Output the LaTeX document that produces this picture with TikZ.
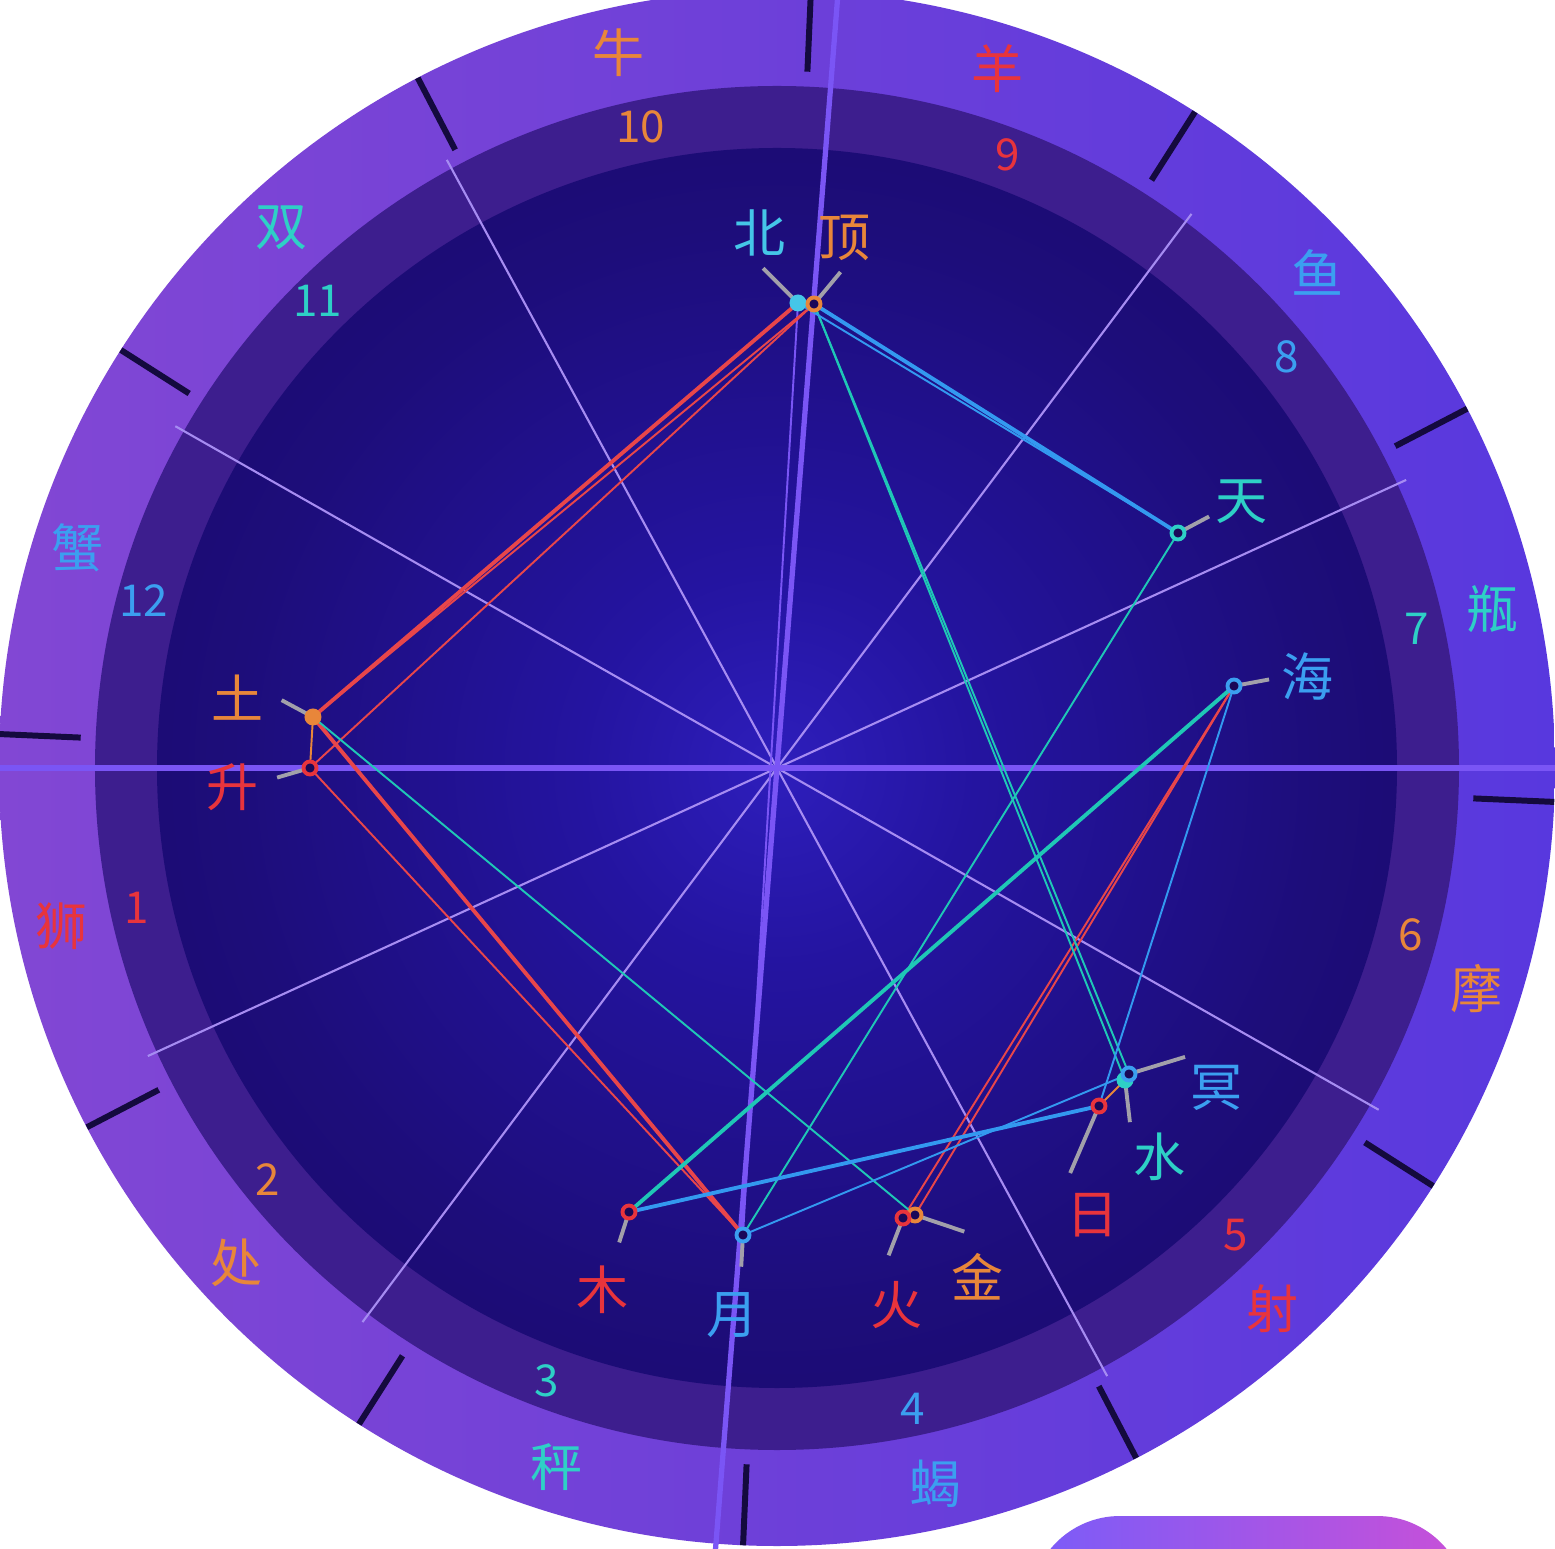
\documentclass[tikz,border=0pt]{standalone}
\usepackage{fontspec}
\usepackage{xcolor}
\usepackage{tikz}
\usetikzlibrary{calc}
\newfontfamily\cjk{Noto Sans CJK SC}
\newcommand{\signfont}{\cjk\fontsize{14.8pt}{16pt}\selectfont}
\newcommand{\housefont}{\cjk\fontsize{12.5pt}{14pt}\selectfont}
\definecolor{ringleft}{HTML}{8247D4}
\definecolor{ringright}{HTML}{5838DE}
\definecolor{houseband}{HTML}{3D1E8E}
\definecolor{disccore}{HTML}{2E1EBC}
\definecolor{discinner}{HTML}{2414A0}
\definecolor{discmid}{HTML}{1D0D7A}
\definecolor{discouter}{HTML}{170760}
\definecolor{discrim}{HTML}{13044C}
\definecolor{markfill}{HTML}{1A0858}
\definecolor{cusplav}{HTML}{A68CF2}
\definecolor{axislav}{HTML}{7A55F5}
\definecolor{tickdark}{HTML}{140A3E}
\definecolor{tickgray}{HTML}{A2A0AA}
\definecolor{firered}{HTML}{E8343C}
\definecolor{earthorange}{HTML}{E8863A}
\definecolor{airteal}{HTML}{2ED0C6}
\definecolor{waterblue}{HTML}{3B9FF0}
\definecolor{nodecyan}{HTML}{45C6E8}
\definecolor{aspred}{HTML}{E8464A}
\definecolor{aspteal}{HTML}{1FC7B6}
\definecolor{aspblue}{HTML}{3399F0}
\definecolor{btnleft}{HTML}{7A5CF8}
\definecolor{btnright}{HTML}{C850D8}
\pgfdeclareradialshading{discglow}{\pgfpoint{0bp}{0bp}}{color(0bp)=(disccore); color(8bp)=(discinner); color(22bp)=(discmid); color(40bp)=(discouter); color(50bp)=(discrim)}

\tikzset{
    cuspline/.style={draw=cusplav, line width=0.6pt},
    axisline/.style={draw=axislav, line width=1.5pt},
    signtick/.style={draw=tickdark, line width=1.7pt},
    graytick/.style={draw=tickgray, line width=1.1pt},
    aspthin/.style={draw=#1, line width=0.55pt},
    aspthick/.style={draw=#1, line width=1.1pt},
    ringmark/.style={circle, draw=#1, fill=markfill, line width=1.1pt, inner sep=0pt, minimum size=0.13cm},
    dotmark/.style={circle, fill=#1, inner sep=0pt, minimum size=0.17cm},
    signlabel/.style={text=#1, font=\signfont, inner sep=0pt},
    houselabel/.style={text=#1, font=\housefont, inner sep=0pt}
}

\begin{document}
\begin{tikzpicture}[x=0.01cm, y=0.01cm]
    % Frame
    \useasboundingbox (-777,-781) rectangle (778,768);
    \fill[white] (-777,-781) rectangle (778,768);
    \clip (-777,-781) rectangle (778,768);

    % Rings
    \shade[left color=ringleft, right color=ringright] (0,0) circle (778);
    \fill[houseband] (0,0) circle (682);
    \shade[shading=discglow] (0,0) circle (620);

    % House cusps and axes
    \foreach \a in {24.6, 53.2, 118.5, 150.4}
        \draw[cuspline] (\a:692) -- ({\a+180}:692);
    \draw[axisline] (180:800) -- (0:800);
    \draw[axisline] (85.5:800) -- (265.5:800);

    % Sign borders
    \foreach \a in {27.5, 57.5, ..., 357.5}
        \draw[signtick] (\a:697) -- (\a:778);

    % Signs
    \foreach \a/\t/\c [count=\i] in {12.5/瓶/airteal, 42.5/鱼/waterblue, 72.5/羊/firered,
        102.5/牛/earthorange, 132.5/双/airteal, 162.5/蟹/waterblue, 192.5/狮/firered,
        222.5/处/earthorange, 252.5/秤/airteal, 282.5/蝎/waterblue, 312.5/射/firered,
        342.5/摩/earthorange}
        \node[signlabel=\c] (sign\i) at (\a:733) {\t};

    % Houses
    \foreach \a/\t/\c in {192.3/1/firered, 218.9/2/earthorange, 249.4/3/airteal,
        282/4/waterblue, 314.5/5/firered, 345.2/6/earthorange, 12.3/7/airteal,
        38.9/8/waterblue, 69.4/9/firered, 102/10/earthorange, 134.5/11/airteal,
        165.2/12/waterblue}
        \node[houselabel=\c] (house\t) at (\a:655) {\t};

    % Planet positions
    \coordinate (bei) at (21,465);
    \coordinate (ding) at (37,464);
    \coordinate (tu) at (-464,51);
    \coordinate (sheng) at (-467,0);
    \coordinate (tian) at (401,235);
    \coordinate (hai) at (457,82);
    \coordinate (ming) at (352,-306);
    \coordinate (shui) at (348,-312);
    \coordinate (ri) at (322,-338);
    \coordinate (huo) at (126,-450);
    \coordinate (jin) at (138,-447);
    \coordinate (yue) at (-34,-467);
    \coordinate (mu) at (-148,-444);

    % Aspects
    \draw[aspthin=axislav] (bei) -- (yue);
    \draw[aspthick=aspred] (bei) -- (tu);
    \draw[aspthin=aspred] (ding) -- (tu);
    \draw[aspthin=aspred] (ding) -- (sheng);
    \draw[aspthick=aspred] (tu) -- (yue);
    \draw[aspthin=aspred] (sheng) -- (yue);
    \draw[aspthin=aspred] (hai) -- (huo);
    \draw[aspthin=aspred] (hai) -- (jin);
    \draw[aspthick=aspteal] (hai) -- (mu);
    \draw[aspthin=aspteal] (ding) -- (shui);
    \draw[aspthin=aspteal] (ding) -- (ming);
    \draw[aspthin=aspteal] (tu) -- (jin);
    \draw[aspthin=aspteal] (tian) -- (yue);
    \draw[aspthick=aspblue] (ding) -- (tian);
    \draw[aspthin=aspblue] (bei) -- (tian);
    \draw[aspthin=aspblue] (hai) -- (ri);
    \draw[aspthick=aspblue] (ri) -- (mu);
    \draw[aspthin=aspblue] (ming) -- (yue);
    \draw[aspthin=earthorange] (ri) -- (shui);
    \draw[aspthin=earthorange] (tu) -- (sheng);

    % Degree marks
    \draw[graytick] (bei) -- (91.6:500);
    \draw[graytick] (ding) -- (82.7:500);
    \draw[graytick] (tu) -- (172.2:500);
    \draw[graytick] (sheng) -- (181.1:500);
    \draw[graytick] (tian) -- (30.2:500);
    \draw[graytick] (hai) -- (10.2:500);
    \draw[graytick] (ming) -- (324.7:500);
    \draw[graytick] (shui) -- (314.9:500);
    \draw[graytick] (ri) -- (305.9:500);
    \draw[graytick] (huo) -- (282.9:500);
    \draw[graytick] (jin) -- (292:500);
    \draw[graytick] (yue) -- (265.9:500);
    \draw[graytick] (mu) -- (251.6:500);

    % Markers
    \node[dotmark=nodecyan] (beiMark) at (bei) {};
    \node[ringmark=earthorange] (dingMark) at (ding) {};
    \node[dotmark=earthorange] (tuMark) at (tu) {};
    \node[ringmark=firered] (shengMark) at (sheng) {};
    \node[ringmark=airteal] (tianMark) at (tian) {};
    \node[ringmark=waterblue] (haiMark) at (hai) {};
    \node[dotmark=airteal] (shuiMark) at (shui) {};
    \node[ringmark=waterblue] (mingMark) at (ming) {};
    \node[ringmark=firered] (riMark) at (ri) {};
    \node[ringmark=earthorange] (jinMark) at (jin) {};
    \node[ringmark=firered] (huoMark) at (huo) {};
    \node[ringmark=waterblue] (yueMark) at (yue) {};
    \node[ringmark=firered] (muMark) at (mu) {};

    % Planet names
    \node[signlabel=nodecyan] (beiName) at (-17,535) {北};
    \node[signlabel=earthorange] (dingName) at (68,530) {顶};
    \node[signlabel=earthorange] (tuName) at (-539,70) {土};
    \node[signlabel=firered] (shengName) at (-544,-19) {升};
    \node[signlabel=airteal] (tianName) at (465,266) {天};
    \node[signlabel=waterblue] (haiName) at (531,91) {海};
    \node[signlabel=waterblue] (mingName) at (440,-320) {冥};
    \node[signlabel=airteal] (shuiName) at (383,-389) {水};
    \node[signlabel=firered] (riName) at (316,-447) {日};
    \node[signlabel=firered] (huoName) at (120,-537) {火};
    \node[signlabel=earthorange] (jinName) at (201,-509) {金};
    \node[signlabel=waterblue] (yueName) at (-44,-547) {月};
    \node[signlabel=firered] (muName) at (-174,-522) {木};

    % Button
    \shade[left color=btnleft, middle color=btnleft, right color=btnright, rounded corners=0.9cm]
        (253,-748) rectangle (690,-900);
\end{tikzpicture}
\end{document}
